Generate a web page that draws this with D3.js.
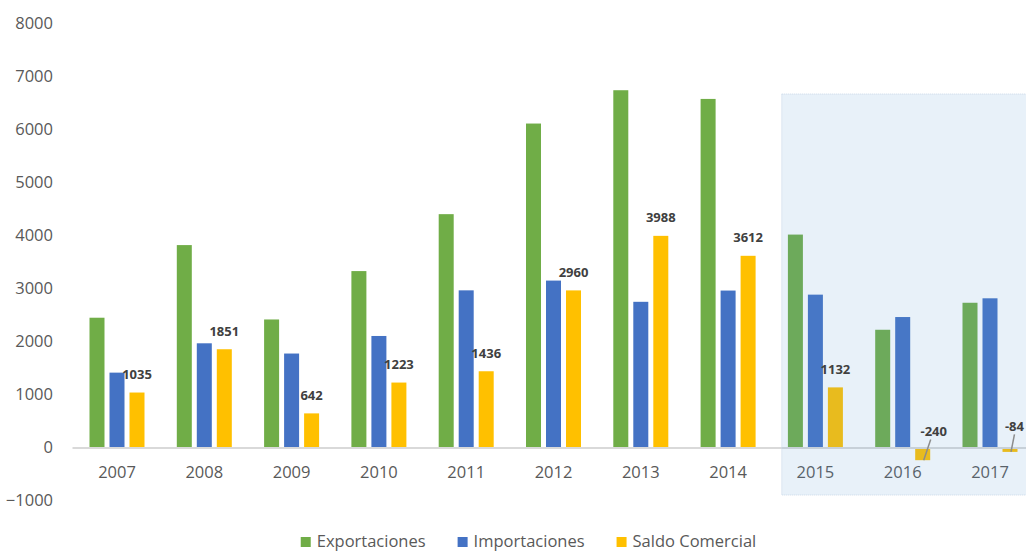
<!DOCTYPE html>
<html>
<head>
<meta charset="utf-8">
<script src="https://cdn.jsdelivr.net/npm/d3@7/dist/d3.min.js"></script>
<style>
  html, body { margin: 0; padding: 0; background: #ffffff; }
  svg { display: block; font-family: "Open Sans", "Noto Sans", sans-serif; }
</style>
</head>
<body>
<svg id="chart" width="1026" height="551"></svg>
<script>
const years = ["2007","2008","2009","2010","2011","2012","2013","2014","2015","2016","2017"];
const exportaciones = [2445, 3814, 2412, 3324, 4397, 6105, 6733, 6569, 4012, 2218, 2727];
const importaciones = [1410, 1963, 1770, 2101, 2961, 3145, 2745, 2957, 2880, 2458, 2811];
const saldoComercial = [1035, 1851, 642, 1223, 1436, 2960, 3988, 3612, 1132, -240, -84];
const seriesNames = ["Exportaciones", "Importaciones", "Saldo Comercial"];
const seriesColors = ["#70ad47", "#4472c4", "#ffc000"];
const yTicks = [-1000, 0, 1000, 2000, 3000, 4000, 5000, 6000, 7000, 8000];
const highlightYears = ["2015", "2016", "2017"];

const svg = d3.select("#chart");
const seriesValues = [exportaciones, importaciones, saldoComercial];

const x = d3.scaleBand().domain(years).range([73.35, 1033.65]).padding(0);
const xInner = d3.scaleBand().domain(seriesNames).range([0, 55]).paddingInner(0.25);
const y = d3.scaleLinear().domain([-1000, 8000]).range([500.5, 23]);

const cx = d => x(d) + x.bandwidth() / 2;
const barX = (yr, s) => cx(yr) - 27.5 + xInner(s);

// Y axis tick labels (no line, no gridlines)
const yAxis = d3.axisLeft(y).tickValues(yTicks).tickSize(0).tickPadding(0).tickFormat(d3.format("d"));
const gy = svg.append("g").attr("transform", "translate(53,0)").call(yAxis);
gy.select(".domain").remove();
gy.selectAll("text").attr("fill", "#595959").style("font-size", "16.5px")
  .style("font-family", "'Open Sans', sans-serif");

// Bars
const rows = years.map((yr, i) => ({ yr, vals: seriesValues.map(a => a[i]) }));
const groups = svg.append("g").selectAll("g").data(rows).join("g");
groups.selectAll("rect")
  .data(d => d.vals.map((v, k) => ({ yr: d.yr, s: seriesNames[k], v, c: seriesColors[k] })))
  .join("rect")
  .attr("x", d => barX(d.yr, d.s))
  .attr("width", xInner.bandwidth())
  .attr("y", d => Math.min(y(d.v), y(0)))
  .attr("height", d => Math.abs(y(d.v) - y(0)))
  .attr("fill", d => d.c);

// Zero axis line
svg.append("line")
  .attr("x1", 72.5).attr("x2", 1026)
  .attr("y1", y(0) + 0.5).attr("y2", y(0) + 0.5)
  .attr("stroke", "#d9d9d9").attr("stroke-width", 2);

// X axis labels
const xAxis = d3.axisBottom(x).tickSize(0).tickPadding(0);
const gx = svg.append("g").attr("transform", `translate(0,${y(0) + 19})`).call(xAxis);
gx.select(".domain").remove();
gx.selectAll("text").attr("fill", "#595959").style("font-size", "16.5px")
  .style("font-family", "'Open Sans', sans-serif");

// Highlight region (forecast years)
const hx0 = x(highlightYears[0]) + 10;
svg.append("rect")
  .attr("x", hx0).attr("y", 94)
  .attr("width", 1030 - hx0).attr("height", 401)
  .attr("fill", "#5b9bd5").attr("fill-opacity", 0.14)
  .attr("stroke", "#c9d8e8").attr("stroke-width", 1).attr("stroke-dasharray", "1,1");

// Data labels for Saldo Comercial
const saldoName = seriesNames[2];
const lab = svg.append("g").style("font-family", "'Open Sans', sans-serif")
  .style("font-size", "13px").style("font-weight", "bold").attr("fill", "#404040");
years.forEach((yr, i) => {
  const v = saldoComercial[i];
  const bc = barX(yr, saldoName) + xInner.bandwidth() / 2;
  if (v >= 0) {
    lab.append("text").attr("x", bc).attr("y", y(v) - 13.5)
      .attr("text-anchor", "middle").text(v);
  } else {
    let lx = bc + (v < -150 ? 11 : 9);
    const ly = y(0) - (v < -150 ? 11 : 16);
    const t = lab.append("text").attr("x", lx).attr("y", ly)
      .attr("text-anchor", "middle").text(v);
    const w = t.node().getComputedTextLength();
    if (lx + w / 2 > 1024) { lx = 1024 - w / 2; t.attr("x", lx); }
    svg.append("line")
      .attr("x1", Math.min(lx, bc + 8)).attr("y1", ly + 3)
      .attr("x2", bc + 1).attr("y2", y(v))
      .attr("stroke", "#8c8c8c").attr("stroke-width", 1.5);
  }
});

// Legend
const legend = svg.append("g").style("font-family", "'Open Sans', sans-serif").style("font-size", "16.5px");
let lxPos = 0;
seriesNames.forEach((name, k) => {
  const g = legend.append("g");
  g.append("rect").attr("x", 0).attr("y", -10).attr("width", 10).attr("height", 10).attr("fill", seriesColors[k]);
  const t = g.append("text").attr("x", 16).attr("y", 0).attr("fill", "#595959").text(name);
  const w = t.node().getComputedTextLength();
  g.attr("transform", `translate(${lxPos},0)`);
  lxPos += 16 + w + 32;
});
const totalW = lxPos - 32;
legend.attr("transform", `translate(${528.5 - totalW / 2},547)`);
</script>
</body>
</html>
